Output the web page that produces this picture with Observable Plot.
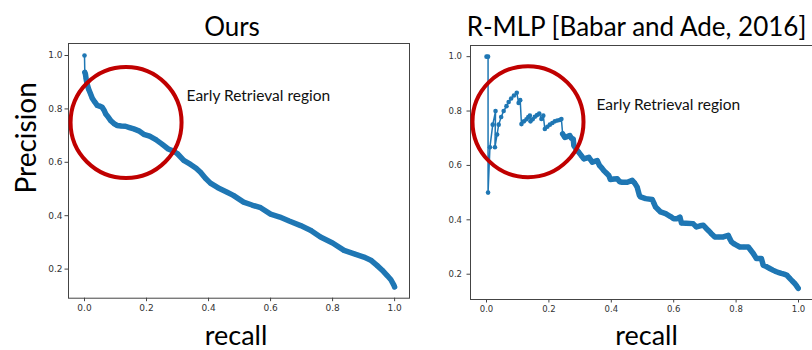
<!DOCTYPE html>
<html><head><meta charset="utf-8">
<script src="https://cdn.jsdelivr.net/npm/d3@7"></script>
<script src="https://cdn.jsdelivr.net/npm/@observablehq/plot@0.6"></script>
<style>
html,body{margin:0;padding:0;background:#fff;overflow:hidden;}
#wrap{position:relative;width:812px;height:350px;overflow:hidden;background:#fff;}
#left,#right{position:absolute;top:0;width:420px;height:350px;}
#left{left:0}
#right{left:406px}
</style></head><body><div id="wrap"><div id="left"></div><div id="right"></div></div>
<script>
// ---- data ----
const xTicks = [0, 0.2, 0.4, 0.6, 0.8, 1.0];
const yTicks = [0.2, 0.4, 0.6, 0.8, 1.0];
const titles = ["Ours", "R-MLP [Babar and Ade, 2016]"];
const xLabel = "recall";
const yLabel = "Precision";
const annotationText = "Early Retrieval region";

const oursRecall = [0, 0.001, 0.003, 0.005, 0.008, 0.013, 0.02, 0.025, 0.033, 0.041, 0.05, 0.057, 0.063, 0.068, 0.076, 0.084, 0.095, 0.105, 0.118, 0.132, 0.145, 0.159, 0.175, 0.191, 0.21, 0.23, 0.25, 0.27, 0.285, 0.299, 0.32, 0.342, 0.36, 0.374, 0.39, 0.406, 0.43, 0.46, 0.48, 0.513, 0.54, 0.568, 0.6, 0.63, 0.66, 0.697, 0.73, 0.761, 0.8, 0.837, 0.87, 0.901, 0.925, 0.944, 0.96, 0.976, 0.988, 0.998, 1.0];
const oursPrecision = [1.0, 0.937, 0.93, 0.914, 0.895, 0.875, 0.855, 0.84, 0.826, 0.813, 0.81, 0.806, 0.795, 0.782, 0.77, 0.757, 0.745, 0.738, 0.736, 0.735, 0.73, 0.725, 0.718, 0.705, 0.698, 0.685, 0.668, 0.65, 0.643, 0.633, 0.607, 0.592, 0.578, 0.563, 0.54, 0.522, 0.505, 0.488, 0.476, 0.451, 0.44, 0.43, 0.406, 0.395, 0.38, 0.363, 0.345, 0.32, 0.298, 0.27, 0.257, 0.245, 0.232, 0.213, 0.196, 0.176, 0.16, 0.139, 0.133];

const rmlpRecall = [0.0, 0.005, 0.005, 0.011, 0.02, 0.029, 0.027, 0.034, 0.039, 0.047, 0.055, 0.064, 0.071, 0.079, 0.088, 0.097, 0.103, 0.108, 0.112, 0.12, 0.128, 0.134, 0.139, 0.141, 0.148, 0.155, 0.162, 0.169, 0.176, 0.182, 0.187, 0.195, 0.203, 0.211, 0.219, 0.227, 0.235, 0.24, 0.244, 0.251, 0.259, 0.267, 0.272, 0.278, 0.28, 0.288, 0.296, 0.304, 0.312, 0.32, 0.328, 0.334, 0.339, 0.347, 0.355, 0.362, 0.37, 0.376, 0.384, 0.392, 0.397, 0.408, 0.419, 0.427, 0.435, 0.451, 0.467, 0.475, 0.483, 0.49, 0.494, 0.51, 0.531, 0.537, 0.542, 0.55, 0.558, 0.574, 0.59, 0.6, 0.611, 0.62, 0.625, 0.64, 0.662, 0.673, 0.685, 0.695, 0.703, 0.711, 0.72, 0.732, 0.745, 0.759, 0.775, 0.78, 0.785, 0.793, 0.801, 0.812, 0.825, 0.839, 0.847, 0.855, 0.865, 0.873, 0.881, 0.887, 0.897, 0.908, 0.918, 0.929, 0.937, 0.945, 0.954, 0.962, 0.972, 0.98, 0.988, 0.994, 0.999];
const rmlpPrecision = [1.0, 1.0, 0.5, 0.667, 0.75, 0.80, 0.667, 0.714, 0.75, 0.778, 0.80, 0.818, 0.833, 0.846, 0.857, 0.867, 0.83, 0.84, 0.752, 0.762, 0.77, 0.778, 0.783, 0.762, 0.77, 0.779, 0.785, 0.791, 0.771, 0.783, 0.734, 0.742, 0.75, 0.756, 0.762, 0.765, 0.767, 0.771, 0.716, 0.703, 0.706, 0.71, 0.70, 0.697, 0.673, 0.66, 0.648, 0.636, 0.624, 0.627, 0.63, 0.62, 0.612, 0.615, 0.618, 0.60, 0.59, 0.581, 0.572, 0.563, 0.548, 0.55, 0.551, 0.54, 0.538, 0.538, 0.545, 0.535, 0.52, 0.49, 0.484, 0.478, 0.475, 0.46, 0.447, 0.438, 0.429, 0.423, 0.412, 0.404, 0.404, 0.41, 0.388, 0.387, 0.386, 0.374, 0.378, 0.38, 0.37, 0.361, 0.35, 0.337, 0.337, 0.337, 0.343, 0.33, 0.319, 0.312, 0.307, 0.30, 0.30, 0.30, 0.288, 0.276, 0.258, 0.258, 0.258, 0.233, 0.228, 0.221, 0.215, 0.209, 0.206, 0.203, 0.2, 0.197, 0.185, 0.175, 0.166, 0.157, 0.148];

// annotation anchors (data units): circle centre and label start
const oursCircle = [{recall: 0.134, precision: 0.749}];
const rmlpCircle = [{recall: 0.133, precision: 0.761}];
const oursNote = [{recall: 0.329, precision: 0.831, text: annotationText}];
const rmlpNote = [{recall: 0.3526, precision: 0.803, text: annotationText}];

// ---- styles ----
const BLUE = "#1f77b4";
const RED = "#C00000";
const TITLE_FONT = "Lato, 'Open Sans', sans-serif";

function rows(rs, ps) { return rs.map((r, i) => ({recall: r, precision: ps[i], i})); }

function panel(opts) {
  const data = rows(opts.recall, opts.precision);
  const dense = data.filter(d => d.i >= opts.denseFrom);
  return Plot.plot({
    width: 420, height: 350,
    marginTop: opts.mt, marginBottom: opts.mb, marginLeft: opts.ml, marginRight: opts.mr,
    style: {fontFamily: "'DejaVu Sans', sans-serif", fontSize: opts.tickFont, color: "#333", background: "transparent", overflow: "visible", maxWidth: "none"},
    x: {domain: opts.xdom},
    y: {domain: opts.ydom},
    marks: [
      Plot.axisX({ticks: xTicks, tickFormat: d3.format(".1f"), tickSize: 3.5, tickPadding: 3, label: null, stroke: "#444"}),
      Plot.axisY({ticks: yTicks, tickFormat: d3.format(".1f"), tickSize: 3.5, tickPadding: opts.ytp, label: null, stroke: "#444"}),
      Plot.line(data, {x: "recall", y: "precision", stroke: BLUE, strokeWidth: 1.5}),
      Plot.line(dense, {x: "recall", y: "precision", stroke: BLUE, strokeWidth: 5.5, strokeLinejoin: "round", strokeLinecap: "round"}),
      Plot.dot(data, {x: "recall", y: "precision", r: 2.3, fill: BLUE}),
      Plot.frame({stroke: "#444", strokeWidth: 1}),
      Plot.dot(opts.circle, {x: "recall", y: "precision", r: 55.5, stroke: RED, strokeWidth: 4, fill: "none"}),
      Plot.text(opts.note, {x: "recall", y: "precision", text: "text", textAnchor: "start", lineAnchor: "bottom", fontSize: 15.5, fontFamily: TITLE_FONT, fill: "#111"}),
      Plot.text([opts.title], {frameAnchor: "top", textAnchor: "middle", dx: opts.tdx, dy: opts.tdy, lineAnchor: "bottom", fontSize: 26, fontFamily: TITLE_FONT, fill: "#000"}),
      Plot.text([xLabel], {frameAnchor: "bottom", textAnchor: "middle", dx: opts.xldx, dy: opts.xldy, lineAnchor: "bottom", fontSize: 27, fontFamily: TITLE_FONT, fill: "#000"}),
      ...(opts.showY ? [Plot.text([yLabel], {frameAnchor: "left", textAnchor: "middle", dx: -33, dy: -33, rotate: -90, lineAnchor: "bottom", fontSize: 28, fontFamily: TITLE_FONT, fill: "#000"})] : [])
    ]
  });
}

document.getElementById("left").append(panel({
  recall: oursRecall, precision: oursPrecision, denseFrom: 1,
  mt: 43, mb: 52.3, ml: 68, mr: 11,
  xdom: [-0.0516, 1.048], ydom: [0.091, 1.045],
  tickFont: "9px", ytp: 2.5,
  circle: oursCircle, note: oursNote,
  title: titles[0], tdx: -7, tdy: -8,
  xldx: -3, xldy: 47, showY: true
}));

document.getElementById("right").append(panel({
  recall: rmlpRecall, precision: rmlpPrecision, denseFrom: 38,
  mt: 45, mb: 51, ml: 64, mr: 12.4,
  xdom: [-0.0513, 1.05], ydom: [0.107, 1.041],
  tickFont: "8.5px", ytp: 5,
  circle: rmlpCircle, note: rmlpNote,
  title: titles[1], tdx: -5.8, tdy: -10,
  xldx: 4.2, xldy: 45, showY: false
}));
</script>
</body></html>
